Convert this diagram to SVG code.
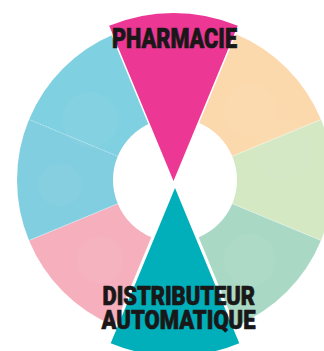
<svg xmlns="http://www.w3.org/2000/svg" width="324" height="351" viewBox="0 0 324 351">
  <style>
    .lbl { font-family: "Roboto", "Liberation Sans", sans-serif; font-weight: 900; fill: #1a1718; stroke: #1a1718; stroke-width: 0.7; stroke-linejoin: round; }
    .div { stroke: #ffffff; stroke-width: 0.7; stroke-opacity: 0.5; fill: none; }
    .bokeh { fill: #ffffff; fill-opacity: 0.04; }
    .hi { stroke: #ffffff; stroke-width: 3; paint-order: stroke; stroke-linejoin: miter; }
  </style>
  <defs>
    <clipPath id="wheelClip">
      <circle cx="175" cy="180" r="158"/>
    </clipPath>
  </defs>
  <rect width="324" height="351" fill="#ffffff"/>

  <g id="wheel">
    <g id="sector-top-right">
      <path d="M175,180 L235.46,34.03 A158,158 0 0 1 320.97,119.54 Z" fill="#fcd9ad"/>
    </g>
    <g id="sector-right">
      <path d="M175,180 L320.97,119.54 A158,158 0 0 1 320.97,240.46 Z" fill="#d4e8c3"/>
    </g>
    <g id="sector-bottom-right">
      <path d="M175,180 L320.97,240.46 A158,158 0 0 1 235.46,325.97 Z" fill="#a9d9c4"/>
    </g>
    <g id="sector-bottom-left">
      <path d="M175,180 L114.54,325.97 A158,158 0 0 1 29.03,240.46 Z" fill="#f5afbd"/>
    </g>
    <g id="sector-left">
      <path d="M175,180 L29.03,240.46 A158,158 0 0 1 29.03,119.54 Z" fill="#80cee0"/>
    </g>
    <g id="sector-top-left">
      <path d="M175,180 L29.03,119.54 A158,158 0 0 1 114.54,34.03 Z" fill="#7fd0e1"/>
    </g>
    <g clip-path="url(#wheelClip)">
      <circle class="bokeh" cx="90" cy="120" r="28"/>
      <circle class="bokeh" cx="60" cy="185" r="22"/>
      <circle class="bokeh" cx="250" cy="110" r="26"/>
      <circle class="bokeh" cx="285" cy="150" r="30"/>
      <circle class="bokeh" cx="100" cy="260" r="24"/>
      <circle class="bokeh" cx="250" cy="260" r="26"/>
    </g>
  </g>

  <g id="connectors">
    <line class="div" x1="29.03" y1="119.54" x2="117.7" y2="156.3" stroke-dasharray="1.5 1.5"/>
    <line class="div" x1="320.97" y1="119.54" x2="232.3" y2="156.3"/>
    <line class="div" x1="320.97" y1="240.46" x2="232.3" y2="203.7"/>
    <line class="div" x1="29.03" y1="240.46" x2="117.7" y2="203.7"/>
  </g>

  <g id="hub">
    <circle cx="175" cy="180" r="62" fill="#ffffff"/>
  </g>

  <g id="pharmacie">
    <path class="hi" d="M173.5,181 L109.2,25.8 A168,168 0 0 1 237.8,25.8 Z" fill="#ec3794"/>
    <text class="lbl" x="112" y="48.3" font-size="28" textLength="125" lengthAdjust="spacingAndGlyphs">PHARMACIE</text>
  </g>

  <g id="distributeur">
    <path class="hi" d="M175,188 L239.3,343.2 A168,168 0 0 1 110.7,343.2 Z" fill="#00afb9"/>
    <text class="lbl" x="102.5" y="304.5" font-size="25" textLength="152.5" lengthAdjust="spacingAndGlyphs">DISTRIBUTEUR</text>
    <text class="lbl" x="101.5" y="329" font-size="25" textLength="154" lengthAdjust="spacingAndGlyphs">AUTOMATIQUE</text>
  </g>
</svg>
